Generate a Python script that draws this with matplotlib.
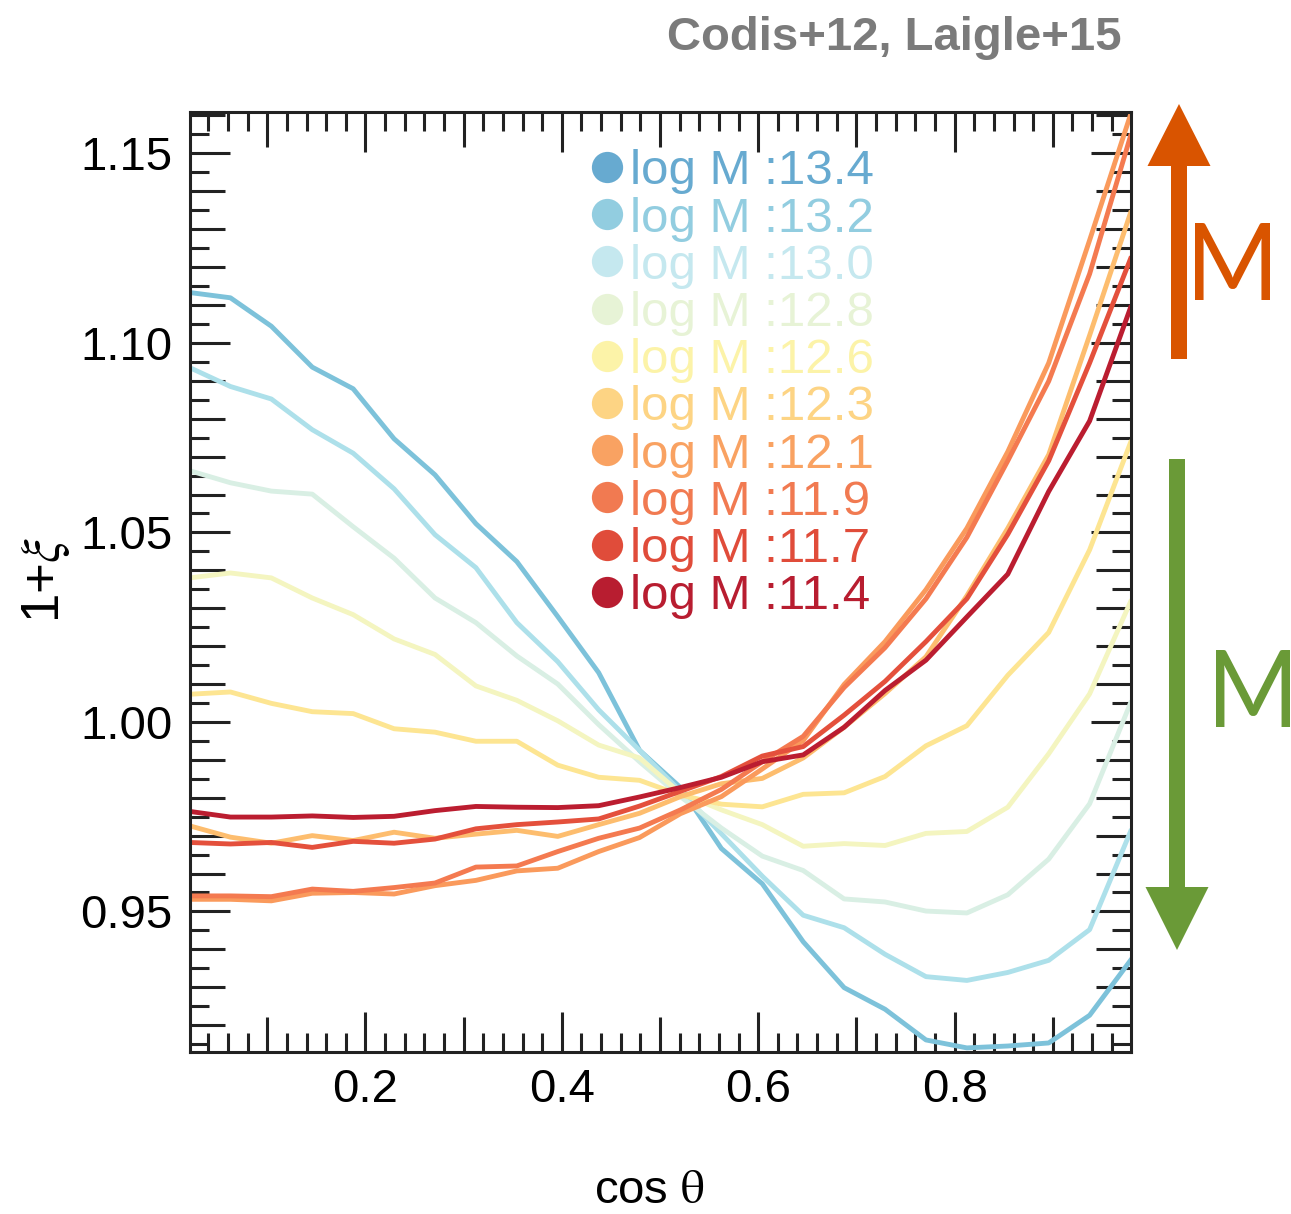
import numpy as np
import matplotlib
matplotlib.use('Agg')
import matplotlib.pyplot as plt
from matplotlib.ticker import MultipleLocator, FuncFormatter
from matplotlib.patches import FancyArrow, PathPatch
from matplotlib.transforms import IdentityTransform, Affine2D
from matplotlib.textpath import TextPath
from matplotlib.font_manager import FontProperties

plt.rcParams['font.family'] = ['Liberation Sans', 'DejaVu Sans']
plt.rcParams['mathtext.fontset'] = 'stix'

# 24 bins in cos(theta)
n_bins = 24
cos_theta = (np.arange(n_bins) + 0.5) / n_bins

masses = ['13.4', '13.2', '13.0', '12.8', '12.6', '12.3', '12.1', '11.9', '11.7', '11.4']

xi_134 = [1.1133, 1.1119, 1.1044, 1.0936, 1.0879, 1.0747, 1.0652, 1.0523, 1.0423, 1.0278, 1.0130, 0.9925,
          0.9827, 0.9666, 0.9573, 0.9420, 0.9299, 0.9242, 0.9161, 0.9140, 0.9145, 0.9153, 0.9226, 0.9371]
xi_132 = [1.0935, 1.0885, 1.0852, 1.0771, 1.0709, 1.0615, 1.0494, 1.0407, 1.0262, 1.0159, 1.0032, 0.9925,
          0.9817, 0.9705, 0.9593, 0.9490, 0.9457, 0.9387, 0.9328, 0.9318, 0.9339, 0.9371, 0.9452, 0.9711]
xi_130 = [1.0663, 1.0631, 1.0609, 1.0601, 1.0515, 1.0432, 1.0327, 1.0262, 1.0174, 1.0100, 0.9993, 0.9895,
          0.9803, 0.9720, 0.9646, 0.9608, 0.9533, 0.9525, 0.9501, 0.9496, 0.9544, 0.9638, 0.9784, 1.0050]
xi_128 = [1.0380, 1.0393, 1.0380, 1.0327, 1.0283, 1.0219, 1.0178, 1.0095, 1.0057, 1.0003, 0.9939, 0.9905,
          0.9812, 0.9768, 0.9729, 0.9672, 0.9679, 0.9674, 0.9706, 0.9711, 0.9775, 0.9916, 1.0074, 1.0317]
xi_126 = [1.0073, 1.0079, 1.0049, 1.0027, 1.0022, 0.9982, 0.9973, 0.9949, 0.9949, 0.9886, 0.9854, 0.9846,
          0.9807, 0.9783, 0.9776, 0.9809, 0.9813, 0.9856, 0.9937, 0.9990, 1.0123, 1.0236, 1.0454, 1.0737]
xi_123 = [0.9726, 0.9696, 0.9680, 0.9700, 0.9687, 0.9709, 0.9693, 0.9704, 0.9714, 0.9698, 0.9729, 0.9759,
          0.9803, 0.9837, 0.9851, 0.9905, 0.9986, 1.0075, 1.0172, 1.0333, 1.0511, 1.0705, 1.1020, 1.1343]
xi_121 = [0.9532, 0.9532, 0.9528, 0.9548, 0.9550, 0.9546, 0.9568, 0.9582, 0.9607, 0.9614, 0.9658, 0.9695,
          0.9758, 0.9803, 0.9876, 0.9951, 1.0099, 1.0212, 1.0349, 1.0511, 1.0713, 1.0947, 1.1271, 1.1602]
xi_119 = [0.9541, 0.9541, 0.9539, 0.9559, 0.9553, 0.9563, 0.9575, 0.9617, 0.9620, 0.9658, 0.9693, 0.9720,
          0.9768, 0.9822, 0.9895, 0.9962, 1.0091, 1.0196, 1.0325, 1.0487, 1.0689, 1.0899, 1.1182, 1.1546]
xi_117 = [0.9682, 0.9678, 0.9682, 0.9669, 0.9685, 0.9680, 0.9691, 0.9718, 0.9729, 0.9736, 0.9744, 0.9778,
          0.9817, 0.9856, 0.9910, 0.9935, 1.0018, 1.0107, 1.0212, 1.0325, 1.0495, 1.0689, 1.0947, 1.1222]
xi_114 = [0.9764, 0.9749, 0.9749, 0.9752, 0.9748, 0.9751, 0.9766, 0.9777, 0.9775, 0.9774, 0.9779, 0.9802,
          0.9827, 0.9854, 0.9895, 0.9913, 0.9986, 1.0083, 1.0163, 1.0277, 1.0390, 1.0608, 1.0794, 1.1093]

curves = [xi_134, xi_132, xi_130, xi_128, xi_126, xi_123, xi_121, xi_119, xi_117, xi_114]

line_colors = ['#7dc2da', '#ade0ea', '#d9efe4', '#f4f5c0', '#fde592',
               '#fdbd6e', '#fa9a5c', '#f47a50', '#e4503c', '#bb1d30']
label_colors = ['#67aad0', '#92cde0', '#c5e8ef', '#e7f3d6', '#fcf3a8',
                '#fdd484', '#f9a262', '#f17a51', '#e04c3a', '#b81d30']

fig = plt.figure(figsize=(12.91, 12.14), dpi=100)
ax = fig.add_axes([0.1468, 0.1337, 0.7289, 0.7743])

for vals, c in zip(curves, line_colors):
    ax.plot(cos_theta, vals, color=c, lw=3.5)

# legend made of dots + coloured text
for k, (m, c) in enumerate(zip(masses, label_colors)):
    yy = 1 - (167 + 47.2 * k - 111.7) / 940
    ax.plot([0.4437], [yy], 'o', ms=22.5, color=c, mec='none',
            transform=ax.transAxes, clip_on=False)
    ax.text(0.468, yy, 'log M :' + m, color=c, fontsize=35.5,
            transform=ax.transAxes, va='center_baseline', ha='left')

ax.set_xlim(1 / 48, 47 / 48)
ax.set_ylim(0.913, 1.161)

ax.xaxis.set_major_locator(MultipleLocator(0.1))
ax.xaxis.set_minor_locator(MultipleLocator(0.02))
ax.yaxis.set_major_locator(MultipleLocator(0.01))
ax.yaxis.set_minor_locator(MultipleLocator(0.005))
ax.xaxis.set_major_formatter(FuncFormatter(
    lambda v, p: '%.1f' % v if round(v * 10) % 2 == 0 else ''))
ax.yaxis.set_major_formatter(FuncFormatter(
    lambda v, p: '%.2f' % v if round(v * 100) % 5 == 0 else ''))

ax.tick_params(which='both', direction='in', top=True, right=True,
               width=2.2, color='#222222')
ax.tick_params(which='major', length=25.5, labelsize=34, pad=12)
ax.tick_params(which='minor', length=13.5)
for s in ax.spines.values():
    s.set_linewidth(2.2)
    s.set_color('#222222')

fig.canvas.draw()
for t in ax.xaxis.get_major_ticks():
    if round(t.get_loc() * 10) % 2 == 0:
        t.tick1line.set_markersize(29)
        t.tick2line.set_markersize(29)
for t in ax.yaxis.get_major_ticks():
    if round(t.get_loc() * 100) % 5 == 0:
        t.tick1line.set_markersize(29)
        t.tick2line.set_markersize(29)

ax.set_xlabel(r'cos $\mathrm{\theta}$', fontsize=34)
ax.xaxis.set_label_coords(0.489, -0.125)
ax.set_ylabel(r'1+$\xi$', fontsize=38)
ax.yaxis.set_label_coords(-0.125, 0.502)

fig.text(1122 / 1291, 1 - 50 / 1214, 'Codis+12, Laigle+15', ha='right', va='baseline',
         fontsize=34, fontweight='bold', color='#7b7b7b')

# mass arrows on the right (pixel coordinates)
H = 1214
fig.add_artist(FancyArrow(1179, H - 359, 0, 255, width=16, head_width=63, head_length=62,
                          length_includes_head=True, color='#d95400', lw=0,
                          transform=IdentityTransform()))
fig.add_artist(FancyArrow(1177, H - 459, 0, -491, width=16, head_width=63, head_length=63,
                          length_includes_head=True, color='#6a9a37', lw=0,
                          transform=IdentityTransform()))


def big_m(x0, y_top, w, h, color):
    # "M" glyph squeezed to the box of the reference letter
    tp = TextPath((0, 0), 'M', size=100, prop=FontProperties(family='Lato'))
    ext = tp.get_extents()
    tr = (Affine2D().translate(-ext.x0, -ext.y0)
          .scale(w / ext.width, h / ext.height)
          .translate(x0, H - y_top - h))
    fig.add_artist(PathPatch(tr.transform_path(tp), color=color, lw=0,
                             transform=IdentityTransform()))


big_m(1195, 223, 75, 77, '#d95400')
big_m(1216, 650, 74, 77, '#6a9a37')

fig.savefig('out.png', dpi=100)
